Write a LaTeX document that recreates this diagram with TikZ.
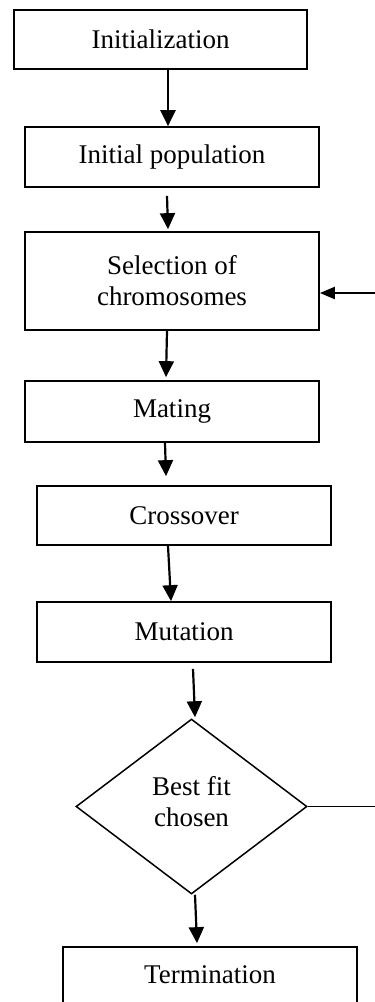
\documentclass[tikz,border=0pt]{standalone}
\usepackage{fontspec}
\setmainfont{Liberation Serif}
\usetikzlibrary{shapes.geometric,arrows.meta}
\begin{document}
\begin{tikzpicture}[x=1pt,y=-1pt,
  font=\fontsize{27}{31}\selectfont,
  box/.style={draw,line width=1.7pt,rectangle,inner sep=0pt,minimum width=#1,align=center},
  box/.default=294pt,
  decide/.style={draw,line width=1.5pt,diamond,inner sep=0pt,aspect=1.32,minimum width=231pt,minimum height=175pt},
  arr/.style={line width=2.2pt,-{Triangle[length=16pt,width=15pt]}},
  fb/.style={line width=2.2pt,-{Triangle[length=15pt,width=12pt]}},
  plain/.style={line width=1.6pt}]
\useasboundingbox (0,0) rectangle (375,1002);
\node[box=293pt,minimum height=59pt] (init) at (160.5,39.5) {Initialization};
\node[box,minimum height=60pt] (pop) at (172,157) {Initial population};
\node[box,minimum height=98pt] (sel) at (172,281) {Selection of\\chromosomes};
\node[box,minimum height=61pt] (mate) at (172,411.5) {Mating};
\node[box,minimum height=59pt] (cross) at (184,515.5) {Crossover};
\node[box,minimum height=60pt] (mut) at (184,632) {Mutation};
\node[decide,label={[align=center,yshift=5pt]center:Best fit\\chosen}] (dia) at (191.5,806.5) {};
\node[box,minimum height=56pt] (term) at (210,975) {Termination};
\coordinate (fbr) at (420,806.5);
\coordinate (fbt) at (420,293);
\draw[arr] ([xshift=7.5pt]init.south) -- ([xshift=-4pt]pop.north);
\draw[arr] ([xshift=-5pt,yshift=-8pt]pop.south) -- ([xshift=-4pt,yshift=2pt]sel.north);
\draw[arr] ([xshift=-5pt]sel.south) -- ([xshift=-6pt,yshift=3pt]mate.north);
\draw[arr] ([xshift=-7pt]mate.south) -- ([xshift=-18pt,yshift=9pt]cross.north);
\draw[arr] ([xshift=-16pt]cross.south) -- ([xshift=-13pt]mut.north);
\draw[arr] ([xshift=9pt,yshift=-6pt]mut.south) -- ([xshift=3.5pt,yshift=1pt]dia.north);
\draw[arr] ([xshift=3.5pt]dia.south) -- ([xshift=-13pt,yshift=3pt]term.north);
\draw[plain] (dia.east) -- (fbr) -- (fbt);
\draw[fb] (fbt) -- ([yshift=-12pt]sel.east);
\end{tikzpicture}
\end{document}
